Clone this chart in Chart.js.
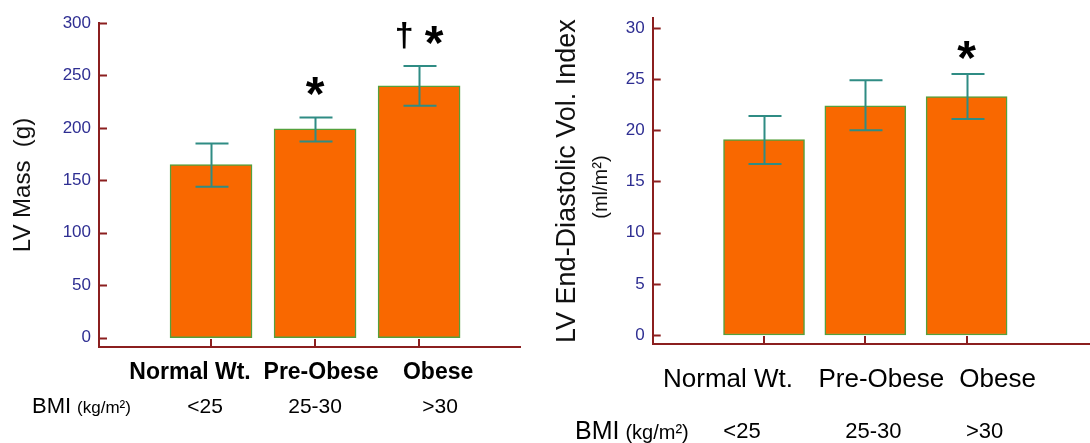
<!DOCTYPE html>
<html>
<head>
<meta charset="utf-8">
<title>LV Mass and LV End-Diastolic Volume Index by BMI</title>
<script src="https://cdn.jsdelivr.net/npm/chart.js@4.4.1/dist/chart.umd.min.js"></script>
<style>
  body { margin: 0; background: #fff; }
  #wrap { position: relative; width: 1090px; height: 443px; }
  canvas { position: absolute; top: 0; }
  #massChart { left: 0; }
  #edviChart { left: 540px; }
</style>
</head>
<body>
<div id="wrap">
  <canvas id="massChart" width="540" height="443"></canvas>
  <canvas id="edviChart" width="550" height="443"></canvas>
</div>
<script>
var categories = ["Normal Wt.", "Pre-Obese", "Obese"];
var bmiRanges = ["<25", "25-30", ">30"];

// LV mass (g), mean with error bar ends
var massMean = [165, 199, 240];
var massLow = [144, 187, 221];
var massHigh = [185, 210, 259];
var massMarks = ["", "*", "†*"];
var massTicks = [0, 50, 100, 150, 200, 250, 300];

// LV end-diastolic volume index (ml/m2)
var edviMean = [19.1, 22.4, 23.3];
var edviLow = [16.7, 20.0, 21.1];
var edviHigh = [21.4, 24.9, 25.5];
var edviMarks = ["", "", "*"];
var edviTicks = [0, 5, 10, 15, 20, 25, 30];

var FONT = "'Liberation Sans', Arial, sans-serif";
var AXIS_COLOR = "#8b1f1f";
var TICK_COLOR = "#2e2e92";
var ERR_COLOR = "#2f8c84";

function drawCentered(ctx, text, x, y) {
  var m = ctx.measureText(text);
  var base = y + (m.actualBoundingBoxAscent - m.actualBoundingBoxDescent) / 2;
  ctx.fillText(text, x, base);
}

function overlayPlugin(o) {
  return {
    id: "overlay",
    afterDatasetsDraw: function(chart) {
      var ctx = chart.ctx;
      var xs = chart.scales.x;
      var ys = chart.scales.y;
      var area = chart.chartArea;
      ctx.save();

      // inward tick marks
      ctx.strokeStyle = AXIS_COLOR;
      ctx.lineWidth = 2;
      o.ticks.forEach(function(v) {
        var py = Math.round(ys.getPixelForValue(v)) + 0.5;
        ctx.beginPath();
        ctx.moveTo(area.left, py);
        ctx.lineTo(area.left + 8, py);
        ctx.stroke();
      });
      o.mean.forEach(function(v, i) {
        var px = Math.round(xs.getPixelForValue(i + 1));
        ctx.beginPath();
        ctx.moveTo(px, area.bottom);
        ctx.lineTo(px, area.bottom - 8);
        ctx.stroke();
      });

      // error bars
      ctx.strokeStyle = ERR_COLOR;
      ctx.lineWidth = 2;
      o.mean.forEach(function(v, i) {
        var px = Math.round(xs.getPixelForValue(i + 1)) + 0.5;
        var top = ys.getPixelForValue(o.high[i]);
        var bot = ys.getPixelForValue(o.low[i]);
        ctx.beginPath();
        ctx.moveTo(px, top);
        ctx.lineTo(px, bot);
        ctx.moveTo(px - 16, top);
        ctx.lineTo(px + 17, top);
        ctx.moveTo(px - 16, bot);
        ctx.lineTo(px + 17, bot);
        ctx.stroke();
      });

      // significance marks
      ctx.fillStyle = "#000";
      ctx.textAlign = "center";
      ctx.textBaseline = "alphabetic";
      o.marks.forEach(function(s, i) {
        if (!s) return;
        var chars = s.split("");
        var cx = xs.getPixelForValue(i + 1);
        var cy = ys.getPixelForValue(o.high[i]) - o.markLift;
        chars.forEach(function(ch, k) {
          var x = cx + (k - (chars.length - 1) / 2) * 30;
          ctx.font = ch === "*" ? "bold 48px " + FONT : "bold 34px " + FONT;
          drawCentered(ctx, ch, x, cy);
        });
      });

      // category names
      ctx.font = o.catFont + " " + FONT;
      ctx.textBaseline = "middle";
      categories.forEach(function(c, i) {
        ctx.fillText(c, xs.getPixelForValue(i + 1) + o.catDx[i], o.catY);
      });

      // BMI row
      ctx.textAlign = "left";
      ctx.font = o.bmiSize + "px " + FONT;
      ctx.fillText("BMI", o.bmiX, o.bmiY);
      var w = ctx.measureText("BMI").width;
      ctx.font = o.unitSize + "px " + FONT;
      ctx.fillText("(kg/m²)", o.bmiX + w + 6, o.bmiY + 1);
      ctx.textAlign = "center";
      ctx.font = o.rangeSize + "px " + FONT;
      bmiRanges.forEach(function(r, i) {
        ctx.fillText(r, xs.getPixelForValue(i + 1) + o.rangeDx[i], o.bmiY);
      });

      // second line of the y title
      if (o.subTitle) {
        ctx.save();
        ctx.translate(o.subTitle.x, (area.top + area.bottom) / 2 + o.subTitle.dy);
        ctx.rotate(-Math.PI / 2);
        ctx.font = o.subTitle.size + "px " + FONT;
        ctx.fillStyle = "#111";
        ctx.fillText(o.subTitle.text, 0, 0);
        ctx.restore();
      }
      ctx.restore();
    }
  };
}

function buildChart(id, o) {
  var points = o.mean.map(function(v, i) {
    return { x: i + 1, y: v };
  });
  return new Chart(document.getElementById(id), {
    type: "bar",
    data: {
      datasets: [
        {
          data: points,
          backgroundColor: "#f96800",
          borderColor: "#55a03c",
          borderWidth: 1.5,
          borderSkipped: false,
          barThickness: o.barThickness
        }
      ]
    },
    options: {
      responsive: false,
      animation: false,
      layout: { padding: { top: o.padTop, right: o.padRight, left: 0, bottom: 0 } },
      plugins: { legend: { display: false }, tooltip: { enabled: false } },
      scales: {
        x: {
          type: "linear",
          offset: false,
          min: o.xMin,
          max: o.xMax,
          grid: { display: false, drawTicks: false },
          border: { display: true, color: AXIS_COLOR, width: 2 },
          ticks: { display: false },
          afterBuildTicks: function(scale) {
            scale.ticks = o.mean.map(function(v, i) {
              return { value: i + 1 };
            });
          },
          afterFit: function(scale) {
            scale.height = o.xHeight;
          }
        },
        y: {
          min: o.yMin,
          max: o.yMax,
          grid: { display: false, drawTicks: false },
          border: { display: true, color: AXIS_COLOR, width: 2 },
          ticks: {
            color: TICK_COLOR,
            padding: 8,
            font: { family: FONT, size: 17 }
          },
          afterBuildTicks: function(scale) {
            scale.ticks = o.ticks.map(function(v) {
              return { value: v };
            });
          },
          afterFit: function(scale) {
            scale.width = o.yWidth;
          },
          title: {
            display: true,
            text: o.title,
            color: "#111",
            font: { family: FONT, size: o.titleSize },
            padding: { top: o.titlePad, bottom: 0 }
          }
        }
      }
    },
    plugins: [overlayPlugin(o)]
  });
}

buildChart("massChart", {
  mean: massMean, low: massLow, high: massHigh, marks: massMarks, ticks: massTicks,
  yMin: -8.9, yMax: 300, xMin: -0.077, xMax: 3.97,
  yWidth: 99, xHeight: 96, padTop: 23, padRight: 20, barThickness: 82,
  title: "LV Mass  (g)", titleSize: 24, titlePad: 9,
  markLift: 31,
  catFont: "bold 23px", catY: 373, catDx: [-21, 6, 19],
  bmiX: 32, bmiY: 407, bmiSize: 22, unitSize: 17, rangeSize: 21, rangeDx: [-6, 0, 21]
});

buildChart("edviChart", {
  mean: edviMean, low: edviLow, high: edviHigh, marks: edviMarks, ticks: edviTicks,
  yMin: -0.88, yMax: 30.95, xMin: -0.099, xMax: 4.218,
  yWidth: 112.7, xHeight: 99, padTop: 17.5, padRight: 0, barThickness: 81,
  title: "LV End-Diastolic Vol. Index", titleSize: 27, titlePad: 11,
  subTitle: { text: "(ml/m²)", x: 61.7, dy: 6, size: 20 },
  markLift: 24,
  catFont: "26px", catY: 380, catDx: [-36, 16, 31],
  bmiX: 35, bmiY: 432, bmiSize: 25, unitSize: 20, rangeSize: 22, rangeDx: [-22, 8, 18]
});
</script>
</body>
</html>
